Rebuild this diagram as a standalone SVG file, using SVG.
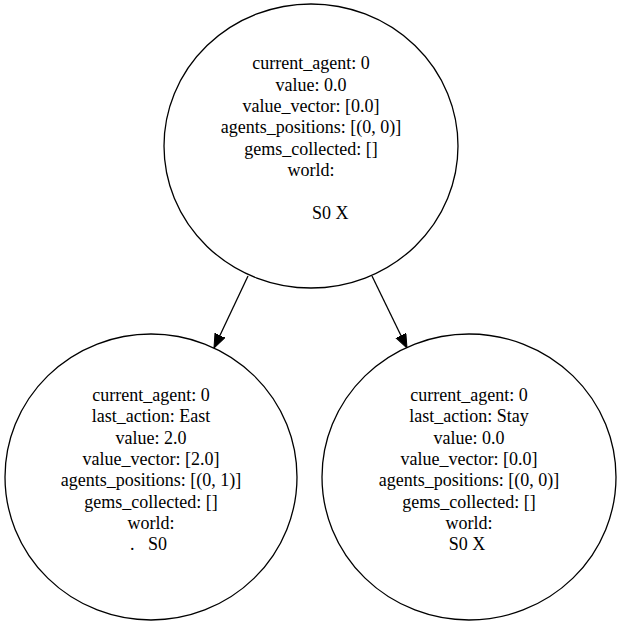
<svg xmlns="http://www.w3.org/2000/svg" width="621" height="624" viewBox="0 0 621 624">
<style>
.n{fill:#fff;stroke:#000;stroke-width:1.3}
.t{font-family:"Liberation Serif","Times New Roman",serif;font-size:18px;fill:#000;text-anchor:middle}
.e{stroke:#000;stroke-width:1.3;fill:none}
</style>
<defs>
<marker id="ah" markerUnits="userSpaceOnUse" markerWidth="16" markerHeight="12" refX="14" refY="5.5" orient="auto" viewBox="0 0 16 12">
<polygon points="0,0 14,5.5 0,11" fill="#000" stroke="#000" stroke-width="1"/>
</marker>
</defs>
<rect width="621" height="624" fill="#fff"/>
<g id="edges">
<line class="e" x1="248" y1="276" x2="214" y2="348" marker-end="url(#ah)"/>
<line class="e" x1="372" y1="276" x2="407" y2="348" marker-end="url(#ah)"/>
</g>
<g id="node0">
<ellipse class="n" cx="311" cy="146" rx="147" ry="142"/>
<text class="t" x="311" y="69.3">current_agent: 0</text>
<text class="t" x="311" y="90.7">value: 0.0</text>
<text class="t" x="311" y="112">value_vector: [0.0]</text>
<text class="t" x="311" y="133.3">agents_positions: [(0, 0)]</text>
<text class="t" x="311" y="154.7">gems_collected: []</text>
<text class="t" x="311" y="176">world:</text>
<text class="t" x="312" y="218.7" style="text-anchor:start">S0 X</text>
</g>
<g id="node1">
<ellipse class="n" cx="151" cy="477" rx="146" ry="143"/>
<text class="t" x="151" y="401">current_agent: 0</text>
<text class="t" x="151" y="422.3">last_action: East</text>
<text class="t" x="151" y="443.7">value: 2.0</text>
<text class="t" x="151" y="465">value_vector: [2.0]</text>
<text class="t" x="151" y="486.3">agents_positions: [(0, 1)]</text>
<text class="t" x="151" y="507.7">gems_collected: []</text>
<text class="t" x="151" y="529">world:</text>
<text class="t" x="130" y="550.3" xml:space="preserve" style="text-anchor:start">.   S0</text>
</g>
<g id="node2">
<ellipse class="n" cx="469" cy="477" rx="147" ry="143"/>
<text class="t" x="469" y="401">current_agent: 0</text>
<text class="t" x="469" y="422.3">last_action: Stay</text>
<text class="t" x="469" y="443.7">value: 0.0</text>
<text class="t" x="469" y="465">value_vector: [0.0]</text>
<text class="t" x="469" y="486.3">agents_positions: [(0, 0)]</text>
<text class="t" x="469" y="507.7">gems_collected: []</text>
<text class="t" x="469" y="529">world:</text>
<text class="t" x="467" y="550.3">S0 X</text>
</g>
</svg>
